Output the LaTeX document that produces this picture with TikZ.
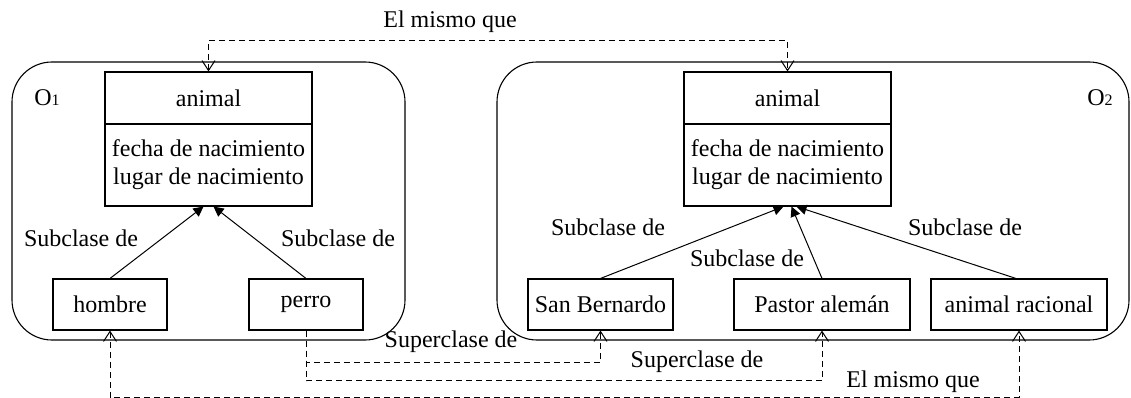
\documentclass[tikz,border=0pt]{standalone}
\usepackage{fontspec}
\setmainfont{Liberation Serif}
\usetikzlibrary{arrows.meta,calc}
\tikzset{vtip/.tip={Straight Barb[length=10pt,width=13pt,line width=1pt]},
  solidtip/.tip={Triangle[length=10pt,width=10pt]}}
\begin{document}
\begin{tikzpicture}[x=1pt,y=-1pt,
  every node/.style={font=\fontsize{24}{28}\selectfont, inner sep=0pt},
  box/.style={draw, line width=1.1pt, minimum height=51pt, align=center},
  cont/.style={draw, line width=1.1pt, rounded corners=40pt},
  isa/.style={line width=1pt, -solidtip},
  rel/.style={line width=1pt, dash pattern=on 6pt off 4pt},
  lbl/.style={}
]
\useasboundingbox (0,0) rectangle (1131,398);
\fill[white] (0,0) rectangle (1131,398);
% containers
\draw[cont] (12,62) rectangle (405,340);
\draw[cont] (497,62) rectangle (1129,340);
\node[lbl] (o1) at (47,98) {O{\fontsize{16}{16}\selectfont 1}};
\node[lbl] (o2) at (1100,98) {O{\fontsize{16}{16}\selectfont 2}};
% left animal
\node[box, minimum width=207pt, minimum height=52pt] (a1h) at (208.5,98) {animal};
\node[box, minimum width=207pt, minimum height=82pt] (a1b) at (208.5,165) {fecha de nacimiento\\lugar de nacimiento};
% right animal
\node[box, minimum width=207pt, minimum height=52pt] (a2h) at (787.5,98) {animal};
\node[box, minimum width=207pt, minimum height=82pt] (a2b) at (787.5,165) {fecha de nacimiento\\lugar de nacimiento};
% leaf classes
\node[box, minimum width=114pt] (hom) at (110,304.5) {hombre};
\node[box, minimum width=114pt] (per) at (306,304.5) {perro};
\node[box, minimum width=145pt] (sb) at (600.5,304.5) {San Bernardo};
\node[box, minimum width=176pt] (pa) at (822,304.5) {Pastor alemán};
\node[box, minimum width=176pt] (ar) at (1019,304.5) {animal racional};
% subclass arrows
\draw[isa] (hom.north) -- ($(a1b.south)+(-5,0)$);
\draw[isa] (per.north) -- ($(a1b.south)+(5,0)$);
\draw[isa] (sb.north) -- ($(a2b.south)+(-4,0)$);
\draw[isa] (pa.north) -- ($(a2b.south)+(4,0)$);
\draw[isa] ($(ar.north)+(-3,0)$) -- ($(a2b.south)+(9,0)$);
\node[lbl] (s1) at (81,238) {Subclase de};
\node[lbl] (s2) at (338,238) {Subclase de};
\node[lbl] (s3) at (608,227) {Subclase de};
\node[lbl] (s4) at (747,258) {Subclase de};
\node[lbl] (s5) at (965,227) {Subclase de};
% dashed relations
\draw[rel, vtip-vtip] (a1h.north) -- ++(0,-31) -| (a2h.north);
\node[lbl] (m1) at (450,22) {El mismo que};
\draw[rel, vtip-vtip] (hom.south) -- ++(0,67) -| (ar.south);
\node[lbl] (m2) at (913,382) {El mismo que};
\draw[rel, -vtip] (per.south) -- ++(0,32) -| (sb.south);
\node[lbl] (p1) at (451,342) {Superclase de};
\draw[rel, -vtip] (per.south) -- ++(0,50) -| (pa.south);
\node[lbl] (p2) at (697,362) {Superclase de};
\end{tikzpicture}
\end{document}
